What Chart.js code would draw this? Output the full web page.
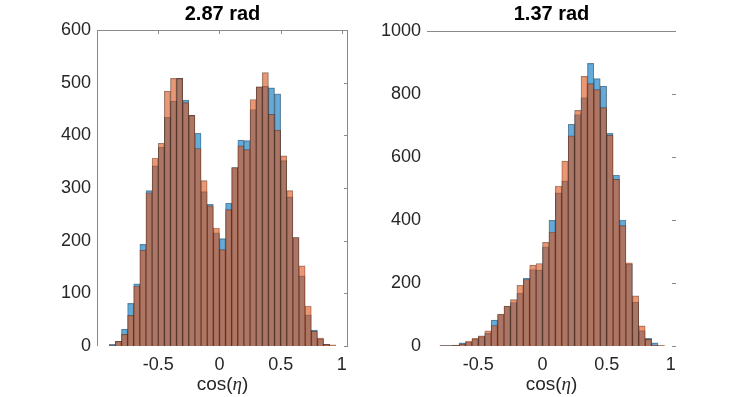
<!DOCTYPE html>
<html>
<head>
<meta charset="utf-8">
<script src="https://cdn.jsdelivr.net/npm/chart.js@4.4.1/dist/chart.umd.min.js"></script>
<style>
  html, body { margin: 0; padding: 0; background: #fff; }
  #wrap { position: relative; width: 747px; height: 397px; }
  canvas { position: absolute; top: 0; }
</style>
</head>
<body>
<div id="wrap">
  <canvas id="left_chart" width="373" height="397" style="left:0"></canvas>
  <canvas id="right_chart" width="374" height="397" style="left:373px"></canvas>
</div>
<script>
// left panel (2.87 rad): bin left edges, counts of the two histograms
var leftBins = [-0.9, -0.85, -0.8, -0.75, -0.7, -0.65, -0.6, -0.55, -0.5, -0.45, -0.4, -0.35, -0.3,
    -0.25, -0.2, -0.15, -0.1, -0.05, 0, 0.05, 0.1, 0.15, 0.2, 0.25, 0.3, 0.35, 0.4, 0.45, 0.5,
    0.55, 0.6, 0.65, 0.7, 0.75, 0.8, 0.85, 0.9];
var leftBlue = [3, 9, 32, 81, 118, 193, 295, 342, 377, 434, 465, 508, 467, 438, 404, 293, 269,
    215, 204, 271, 339, 391, 390, 449, 492, 493, 490, 479, 352, 283, 206, 133, 59, 30, 13, 3, 0];
var leftOrange = [1, 9, 22, 58, 114, 182, 291, 357, 385, 484, 508, 508, 462, 438, 375, 314, 266,
    224, 183, 259, 339, 380, 373, 468, 492, 519, 440, 410, 361, 295, 206, 152, 76, 28, 15, 3, 2];

// right panel (1.37 rad)
var rightBins = [-0.8, -0.75, -0.7, -0.65, -0.6, -0.55, -0.5, -0.45, -0.4, -0.35, -0.3, -0.25,
    -0.2, -0.15, -0.1, -0.05, 0, 0.05, 0.1, 0.15, 0.2, 0.25, 0.3, 0.35, 0.4, 0.45, 0.5, 0.55,
    0.6, 0.65, 0.7, 0.75, 0.8, 0.85, 0.9];
var rightBlue = [1, 1, 2, 10, 12, 21, 30, 40, 82, 100, 126, 138, 167, 215, 243, 241, 315, 399,
    486, 524, 704, 735, 789, 897, 849, 825, 675, 542, 400, 260, 139, 49, 24, 10, 0];
var rightOrange = [1, 1, 3, 6, 16, 24, 32, 48, 65, 101, 127, 147, 193, 211, 257, 262, 329, 362,
    508, 587, 667, 748, 856, 833, 814, 757, 669, 529, 382, 264, 159, 64, 21, 3, 3];

var binWidth = 0.05;
var xTicks = [-0.5, 0, 0.5, 1];
var leftYTicks = [0, 100, 200, 300, 400, 500, 600];
var rightYTicks = [0, 200, 400, 600, 800, 1000];

Chart.defaults.font.family = 'Helvetica, Arial, "Liberation Sans", sans-serif';
Chart.defaults.font.size = 18;
Chart.defaults.color = '#262626';

var frame = {
    id: 'frame',
    afterDraw: function (chart, args, opts) {
        var ctx = chart.ctx, a = chart.chartArea;
        var xs = chart.scales.x, ys = chart.scales.y;
        ctx.save();
        ctx.strokeStyle = '#8a8a8a';
        ctx.lineWidth = 1;
        ctx.beginPath();
        ctx.moveTo(a.left, a.top + 0.5);
        ctx.lineTo(a.right, a.top + 0.5);
        if (opts.box) {
            ctx.moveTo(a.left + 0.5, a.top);
            ctx.lineTo(a.left + 0.5, a.bottom);
            ctx.moveTo(a.right - 0.5, a.top);
            ctx.lineTo(a.right - 0.5, a.bottom);
            xTicks.forEach(function (v) {
                var px = Math.round(xs.getPixelForValue(v)) + 0.5;
                ctx.moveTo(px, a.top);
                ctx.lineTo(px, a.top + 4);
            });
        }
        opts.yTicks.forEach(function (v) {
            var py = Math.round(ys.getPixelForValue(v)) + 0.5;
            ctx.moveTo(a.right - 4, py);
            ctx.lineTo(a.right, py);
        });
        ctx.stroke();

        // title
        var cx = (a.left + a.right) / 2;
        ctx.fillStyle = '#000';
        ctx.font = 'bold 20px Helvetica, Arial, "Liberation Sans", sans-serif';
        ctx.textAlign = 'center';
        ctx.textBaseline = 'middle';
        ctx.fillText(opts.title, cx, 14);

        // x label cos(eta), eta in italic
        var f1 = '19px Helvetica, Arial, "Liberation Sans", sans-serif';
        var f2 = 'italic 19px "Liberation Serif", "DejaVu Serif", serif';
        ctx.fillStyle = '#262626';
        ctx.font = f1;
        var w1 = ctx.measureText('cos(').width, w3 = ctx.measureText(')').width;
        ctx.font = f2;
        var w2 = ctx.measureText('η').width;
        var x0 = cx - (w1 + w2 + w3) / 2;
        ctx.textAlign = 'left';
        ctx.font = f1;
        ctx.fillText('cos(', x0, 385);
        ctx.font = f2;
        ctx.fillText('η', x0 + w1, 385);
        ctx.font = f1;
        ctx.fillText(')', x0 + w1 + w2, 385);
        ctx.restore();
    }
};

function toPoints(bins, counts) {
    return bins.map(function (b, i) {
        return { x: b + binWidth / 2, y: counts[i] };
    });
}

function plain(v) {
    return String(v);
}

function getChartJs(bins, blue, orange, title, xMin, xMax, yTicks, yWidth, pad, box) {
    return {
        type: 'bar',
        data: {
            datasets: [{
                label: 'orange',
                data: toPoints(bins, orange),
                backgroundColor: 'rgba(217, 83, 25, 0.6)',
                borderColor: 'rgba(0, 0, 0, 0.45)',
                borderWidth: 0.5,
                order: 0
            }, {
                label: 'blue',
                data: toPoints(bins, blue),
                backgroundColor: 'rgba(0, 114, 189, 0.6)',
                borderColor: 'rgba(0, 0, 0, 0.45)',
                borderWidth: 0.5,
                order: 1
            }]
        },
        options: {
            responsive: false,
            animation: false,
            grouped: false,
            barPercentage: 1,
            categoryPercentage: 1,
            layout: { padding: pad },
            scales: {
                x: {
                    type: 'linear',
                    offset: false,
                    min: xMin,
                    max: xMax,
                    grid: { display: false, drawTicks: false },
                    border: { display: false },
                    ticks: { padding: 8, autoSkip: false, maxRotation: 0, callback: plain },
                    afterBuildTicks: function (s) {
                        s.ticks = xTicks.map(function (v) { return { value: v }; });
                    },
                    afterFit: function (s) { s.height = 51; }
                },
                y: {
                    min: yTicks[0],
                    max: yTicks[yTicks.length - 1],
                    grid: { display: false, drawTicks: false },
                    border: { display: false },
                    ticks: { padding: 6, callback: plain },
                    afterBuildTicks: function (s) {
                        s.ticks = yTicks.map(function (v) { return { value: v }; });
                    },
                    afterFit: function (s) { s.width = yWidth; }
                }
            },
            plugins: {
                legend: false,
                tooltip: { enabled: false },
                frame: { title: title, yTicks: yTicks, box: box }
            }
        },
        plugins: [frame]
    };
}

new Chart(document.getElementById('left_chart').getContext('2d'),
    getChartJs(leftBins, leftBlue, leftOrange, '2.87 rad', -1, 1.05, leftYTicks, 97,
        { left: 0, right: 25, top: 30, bottom: 0 }, true));
new Chart(document.getElementById('right_chart').getContext('2d'),
    getChartJs(rightBins, rightBlue, rightOrange, '1.37 rad', -0.9, 1.04, rightYTicks, 54,
        { left: 0, right: 71, top: 31, bottom: 0 }, false));
</script>
</body>
</html>
